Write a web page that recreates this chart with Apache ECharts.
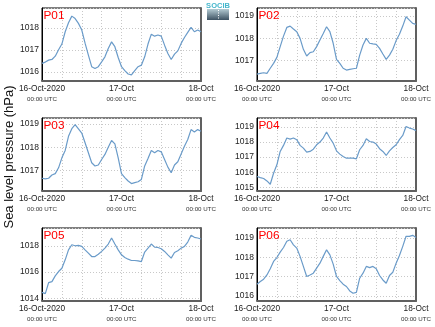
<!DOCTYPE html>
<html><head><meta charset="utf-8">
<script src="https://cdn.jsdelivr.net/npm/echarts@6/dist/echarts.min.js"></script>
<style>html,body{margin:0;padding:0;background:#fff}#c{width:435px;height:327px}</style>
</head><body><div id="c"></div>
<script>
// hours since 16-Oct-2020 00:00 UTC
const hours = [0,1,2,3,4,5,6,7,8,9,10,11,12,13,14,15,16,17,18,19,20,21,22,23,24,25,26,27,28,29,30,31,32,33,34,35,36,37,38,39,40,41,42,43,44,45,46,47,48];
const xTickLabels = {0:'16-Oct-2020', 24:'17-Oct', 48:'18-Oct'};
const xSubLabel = '00:00 UTC';
const panelNames = ['P01','P02','P03','P04','P05','P06'];
const yTitle = 'Sea level pressure (hPa)';

const p01 = [1016.38,1016.44,1016.53,1016.56,1016.71,1017.0,1017.26,1017.82,1018.23,1018.53,1018.42,1018.2,1017.9,1017.3,1016.76,1016.23,1016.15,1016.23,1016.45,1016.68,1017.06,1017.36,1017.14,1016.65,1016.23,1016.05,1015.9,1015.86,1016.05,1016.23,1016.3,1016.68,1017.26,1017.71,1017.62,1017.67,1017.62,1017.21,1016.83,1016.56,1016.8,1016.95,1017.29,1017.56,1017.79,1018.02,1017.82,1017.9,1017.82];
const p02 = [1016.40,1016.43,1016.46,1016.43,1016.66,1016.88,1017.15,1017.63,1018.1,1018.49,1018.55,1018.42,1018.3,1018.0,1017.51,1017.21,1017.36,1017.4,1017.63,1017.93,1018.22,1018.52,1018.3,1017.78,1017.06,1016.88,1016.66,1016.58,1016.61,1016.64,1016.66,1017.25,1017.7,1018.0,1017.78,1017.75,1017.73,1017.55,1017.3,1017.06,1017.25,1017.51,1017.9,1018.18,1018.55,1018.97,1018.82,1018.67,1018.63];
const p03 = [1016.66,1016.63,1016.66,1016.8,1016.86,1017.11,1017.54,1017.86,1018.47,1018.8,1018.97,1018.79,1018.61,1018.19,1017.76,1017.33,1017.19,1017.23,1017.47,1017.69,1018.0,1018.29,1018.14,1017.54,1016.86,1016.69,1016.54,1016.43,1016.47,1016.51,1016.61,1017.19,1017.51,1017.86,1017.76,1017.86,1017.8,1017.47,1017.14,1016.9,1017.23,1017.37,1017.71,1018.04,1018.33,1018.76,1018.66,1018.76,1018.69];
const p04 = [1015.71,1015.64,1015.58,1015.42,1015.2,1015.93,1016.49,1017.38,1017.78,1018.27,1018.2,1018.27,1018.16,1017.78,1017.6,1017.33,1017.38,1017.53,1017.82,1018.0,1018.27,1018.67,1018.27,1017.93,1017.42,1017.2,1017.04,1016.93,1016.93,1016.93,1016.89,1017.49,1017.78,1018.22,1018.04,1018.0,1017.87,1017.56,1017.38,1017.11,1017.42,1017.64,1017.82,1018.16,1018.44,1019.04,1018.93,1018.87,1018.76];
const p05 = [1014.46,1014.36,1015.2,1015.27,1015.71,1016.04,1016.29,1016.93,1017.69,1018.08,1018.0,1018.03,1017.95,1017.69,1017.44,1017.18,1017.18,1017.36,1017.57,1017.82,1018.13,1018.59,1018.13,1017.69,1017.31,1017.11,1016.98,1016.88,1016.88,1016.85,1016.8,1017.52,1017.82,1018.13,1017.9,1017.87,1017.77,1017.57,1017.31,1017.06,1017.49,1017.62,1017.82,1017.95,1018.28,1018.79,1018.64,1018.59,1018.51];
const p06 = [1016.61,1016.75,1016.87,1017.09,1017.41,1017.79,1017.99,1018.27,1018.51,1018.83,1018.91,1018.65,1018.48,1018.05,1017.53,1017.01,1017.09,1017.18,1017.44,1017.7,1018.05,1018.39,1018.13,1017.65,1017.01,1016.8,1016.61,1016.49,1016.26,1016.14,1016.19,1016.92,1017.18,1017.53,1017.47,1017.53,1017.41,1017.06,1016.83,1016.66,1017.06,1017.23,1017.7,1018.1,1018.57,1019.09,1019.09,1019.14,1019.03];
const panelValues = [p01,p02,p03,p04,p05,p06];

// axis ranges: [min, max, tick step]
const yMin = [1015.58, 1016.09, 1016.11, 1014.75, 1013.8, 1015.74];
const yMax = [1018.9, 1019.36, 1019.26, 1019.6, 1019.35, 1019.52];
const yStep = [1, 1, 1, 1, 2, 1];

const gridPos = [[42,8],[257,8],[42,118],[257,118],[42,228],[257,228]];
const GW = 159, GH = 73;
const FONT = "'Liberation Sans', Arial, Helvetica, sans-serif";
const LINE = '#6a9bc9';
const dotted = {color:'#c8c8c8', type:[1,2], width:1};

const grids = [], xAxes = [], yAxes = [], series = [], titles = [];
panelValues.forEach((vals, i) => {
  const [l, t] = gridPos[i];
  grids.push({left:l, top:t, width:GW, height:GH, show:true, borderColor:'#000', borderWidth:1, backgroundColor:'#fff'});
  xAxes.push({
    gridIndex:i, type:'value', min:0, max:48, interval:6,
    axisLine:{show:true, onZero:false, lineStyle:{color:'#606060', width:2}},
    axisTick:{show:false},
    splitLine:{show:true, lineStyle:dotted},
    axisLabel:{
      margin:2.5, hideOverlap:false, showMinLabel:true, showMaxLabel:true,
      formatter: v => xTickLabels[v] ? '{a|' + xTickLabels[v] + '}\n{b|' + xSubLabel + '}' : '',
      rich:{a:{fontSize:8.3, color:'#222', fontFamily:FONT, lineHeight:11, align:'center'},
            b:{fontSize:6.2, color:'#333', fontFamily:FONT, lineHeight:9, align:'center'}}
    }
  });
  yAxes.push({
    gridIndex:i, type:'value', min:yMin[i], max:yMax[i], minInterval:yStep[i], maxInterval:yStep[i],
    axisLine:{show:true, onZero:false, lineStyle:{color:'#000', width:1}},
    axisTick:{show:false},
    splitLine:{show:true, lineStyle:dotted},
    axisLabel:{showMinLabel:false, showMaxLabel:false, fontSize:8.5, color:'#222', fontFamily:FONT, margin:3,
      formatter: v => String(Math.round(v))}
  });
  yAxes.push({
    gridIndex:i, type:'value', position:'right', min:yMin[i], max:yMax[i],
    axisLine:{show:true, onZero:false, lineStyle:{color:'#606060', width:2}},
    axisTick:{show:false}, axisLabel:{show:false}, splitLine:{show:false}
  });
  series.push({
    type:'line', xAxisIndex:i, yAxisIndex:2*i,
    data: hours.map((h,k) => [h, vals[k]]),
    showSymbol:false, symbol:'none', smooth:false,
    lineStyle:{color:LINE, width:1.2}, z:3
  });
  titles.push({text:panelNames[i], left:l+1.5, top:t+1.5, padding:0,
    textStyle:{color:'#ff0000', fontSize:11.8, fontWeight:'normal', fontFamily:FONT}});
});

const chart = echarts.init(document.getElementById('c'), null, {renderer:'canvas'});
chart.setOption({
  animation:false,
  backgroundColor:'#fff',
  title:titles,
  grid:grids, xAxis:xAxes, yAxis:yAxes, series:series,
  graphic:[
    {type:'text', rotation:Math.PI/2, x:9, y:157,
      style:{text:yTitle, fontSize:13, fontFamily:FONT, fill:'#111', textAlign:'center', textVerticalAlign:'middle'}},
    {type:'text', x:218, y:5.5,
      style:{text:'SOCIB', fontSize:7.5, fontFamily:FONT, fontWeight:'bold', fill:'#46b6cc', textAlign:'center', textVerticalAlign:'middle'}},
    {type:'rect', shape:{x:207, y:9, width:22, height:11},
      style:{fill:new echarts.graphic.LinearGradient(0,0,0,1,[{offset:0,color:'#b4cbd3'},{offset:1,color:'#3d5262'}])}},
    {type:'line', shape:{x1:218.5, y1:10, x2:218.5, y2:19}, style:{stroke:'#ffffff', lineWidth:1, lineDash:[1,1.5]}}
  ]
});
</script></body></html>
